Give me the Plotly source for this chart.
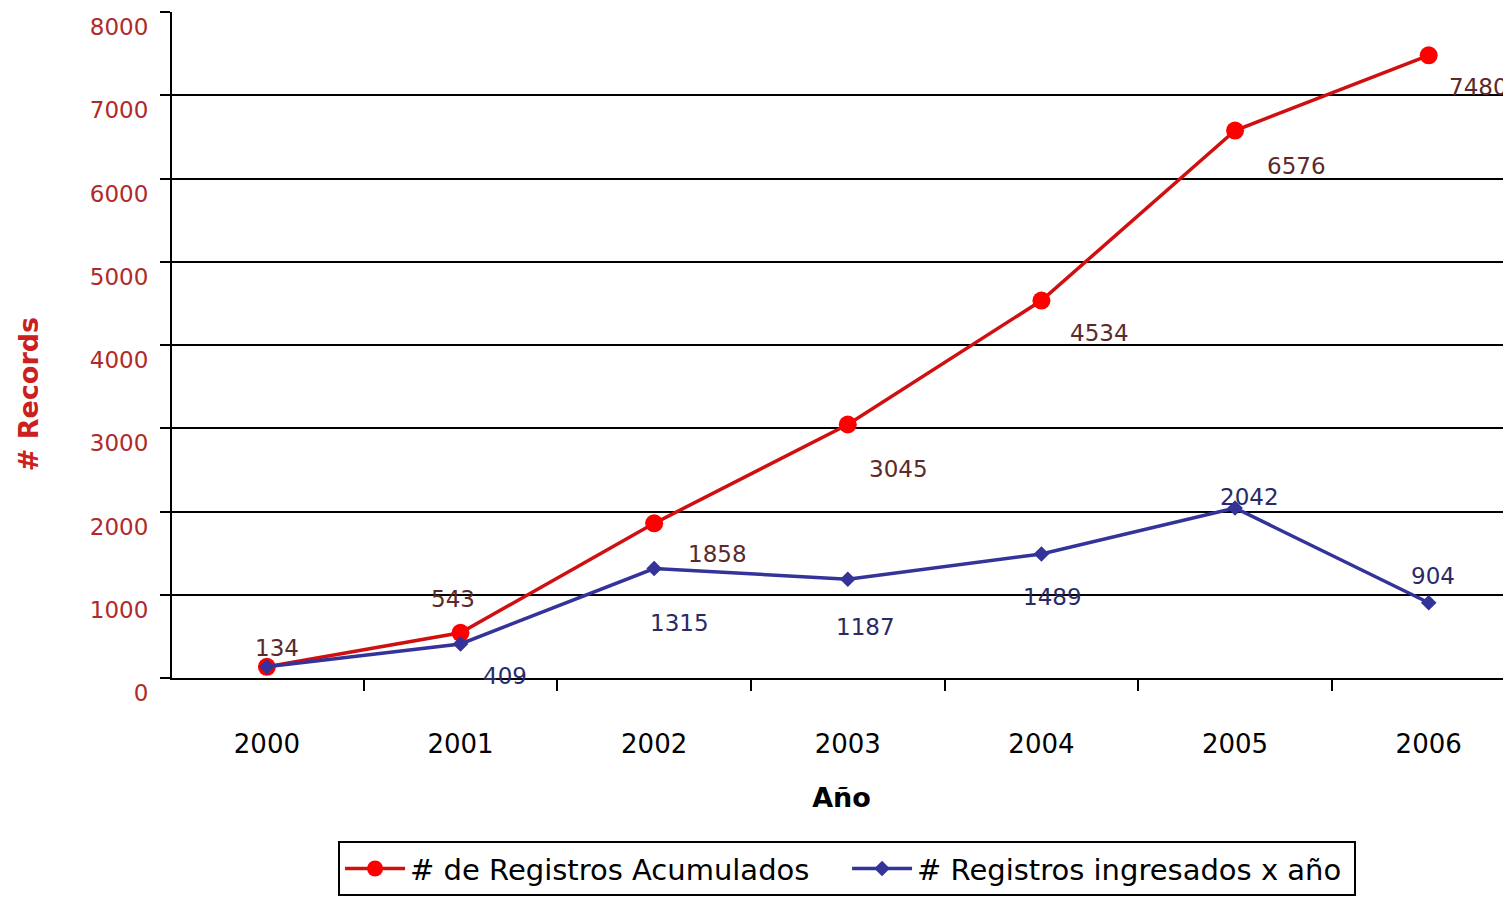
import plotly.graph_objects as go

# data
years = ['2000', '2001', '2002', '2003', '2004', '2005', '2006']
acumulados = [134, 543, 1858, 3045, 4534, 6576, 7480]
por_anio = [134, 409, 1315, 1187, 1489, 2042, 904]

# label offsets (px) like the original excel labels
acum_shift = [(10, 19), (-8, 34), (63, -31), (51, -44), (58, -32), (61, -35), (50, -32)]
anio_shift = [None, (44, -32), (25, -54), (18, -48), (11, -43), (14, 11), (4, 27)]

FONT = 'DejaVu Sans'

fig = go.Figure()

fig.add_trace(go.Scatter(
    x=years, y=acumulados, mode='lines+markers', name='# de Registros Acumulados',
    line=dict(color='#d01010', width=3.5),
    marker=dict(symbol='circle', size=18, color='#ff0000'),
))
fig.add_trace(go.Scatter(
    x=years, y=por_anio, mode='lines+markers', name='# Registros ingresados x año',
    line=dict(color='#333399', width=3.5),
    marker=dict(symbol='diamond', size=12, color='#333399'),
))

# category axis: annotations placed by category index
for i, (v, s) in enumerate(zip(acumulados, acum_shift)):
    fig.add_annotation(x=i, y=v, text=str(v), showarrow=False, xshift=s[0], yshift=s[1],
                       font=dict(family=FONT, size=23, color='#5c2a2a'))
for i, (v, s) in enumerate(zip(por_anio, anio_shift)):
    if s is None:
        continue
    fig.add_annotation(x=i, y=v, text=str(v), showarrow=False, xshift=s[0], yshift=s[1],
                       font=dict(family=FONT, size=23, color='#2a2a66'))

# y title as annotation (sits a bit below the middle in the original)
fig.add_annotation(text='<b># Records</b>', xref='paper', yref='paper', x=0, y=0.426,
                   xanchor='center', yanchor='middle', xshift=-144, textangle=-90,
                   showarrow=False, font=dict(family=FONT, size=27, color='#cc2020'))

fig.update_layout(
    width=1503, height=892,
    margin=dict(l=164, r=0, t=4, b=222, autoexpand=False),
    paper_bgcolor='white', plot_bgcolor='white',
    font=dict(family=FONT, size=22, color='black'),
    showlegend=True,
    legend=dict(
        orientation='h', xref='container', yref='container',
        x=0.2196, xanchor='left', y=0.066, yanchor='top',
        bordercolor='black', borderwidth=2, bgcolor='white',
        font=dict(family=FONT, size=29, color='black'),
        entrywidth=432, itemwidth=60,
    ),
)

fig.update_xaxes(
    type='category', range=[-0.49, 6.425], automargin=False,
    showline=True, linecolor='black', linewidth=2,
    ticks='outside', tickson='boundaries', ticklen=11, tickcolor='black', tickwidth=2,
    showgrid=False, ticklabelstandoff=42,
    tickfont=dict(family=FONT, size=26, color='black'),
    title=dict(text='<b>Año</b>', font=dict(family=FONT, size=27, color='black'), standoff=30),
)
fig.update_yaxes(
    range=[0, 8000], tickvals=[0, 1000, 2000, 3000, 4000, 5000, 6000, 7000, 8000],
    automargin=False, ticklabeloverflow='allow',
    showline=True, linecolor='black', linewidth=2,
    ticks='outside', ticklen=10, tickcolor='black', tickwidth=2,
    showgrid=True, gridcolor='black', gridwidth=1.5, zeroline=False,
    ticklabelshift=15, ticklabelstandoff=7,
    tickfont=dict(family=FONT, size=23, color='#b02a2a'),
)

fig.write_html('out.html')
